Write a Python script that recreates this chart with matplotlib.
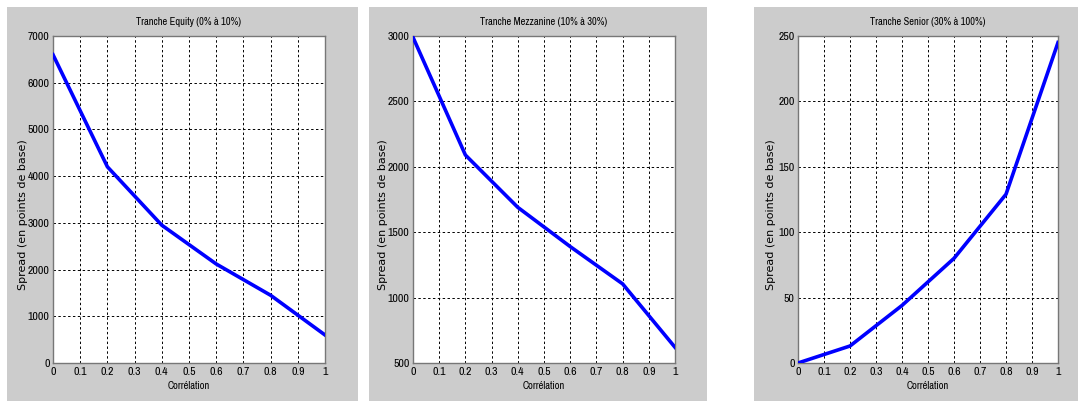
import matplotlib
matplotlib.use("Agg")
import matplotlib.pyplot as plt
from matplotlib.patches import Rectangle

# Data
correlation = [0.0, 0.2, 0.4, 0.6, 0.8, 1.0]
equity = [6600, 4200, 2950, 2120, 1450, 600]
mezzanine = [2990, 2090, 1690, 1390, 1105, 620]
senior = [0, 13, 44, 80, 129, 245]

titles = ["Tranche Equity (0% à 10%)", "Tranche Mezzanine (10% à 30%)", "Tranche Senior (30% à 100%)"]
ylims = [(0, 7000), (500, 3000), (0, 250)]
yticks = [list(range(0, 7001, 1000)), list(range(500, 3001, 500)), list(range(0, 251, 50))]
xticks = [i / 10 for i in range(11)]
xticklabels = ["0", "0.1", "0.2", "0.3", "0.4", "0.5", "0.6", "0.7", "0.8", "0.9", "1"]
series = [equity, mezzanine, senior]

W, H = 1078, 401
fig = plt.figure(figsize=(W / 100, H / 100), dpi=100)
fig.patch.set_facecolor("white")

narrow = ["Archivo Narrow", "Liberation Sans", "DejaVu Sans"]
wide = ["DejaVu Sans"]

panels = [(7, 358), (369, 707), (754, 1078)]
axes_px = [(53, 325), (413, 675), (798, 1058)]
ylabel_x_px = [23, 383, 771]
top_px, bot_px = 36, 363
ah = bot_px - top_px

for (gx0, gx1) in panels:
    fig.add_artist(Rectangle((gx0 / W, 0), (gx1 - gx0) / W, (H - 7) / H,
                             transform=fig.transFigure, facecolor="#cccccc",
                             edgecolor="none", zorder=-10))

for i in range(3):
    ax0, ax1 = axes_px[i]
    aw = ax1 - ax0
    ax = fig.add_axes([ax0 / W, (H - bot_px) / H, aw / W, ah / H])
    ax.set_zorder(1)
    ax.set_facecolor("white")
    ax.plot(correlation, series[i], color="#0000ff", linewidth=2.6, solid_joinstyle="round", zorder=3)
    ax.set_xlim(0, 1)
    ax.set_ylim(*ylims[i])
    ax.set_xticks(xticks)
    ax.set_xticklabels(xticklabels)
    ax.set_yticks(yticks[i])
    ax.grid(True, color="black", linestyle=(0, (2.5, 2.5)), linewidth=0.7)
    ax.tick_params(axis="x", length=0, pad=3.0, labelsize=8.5)
    ax.tick_params(axis="y", length=0, pad=2.5, labelsize=8.5)
    for lab in ax.get_xticklabels() + ax.get_yticklabels():
        lab.set_family(narrow)
    for s in ax.spines.values():
        s.set_color("#777777")
        s.set_linewidth(1.0)
    ax.text(0.5, 1 + (top_px - 22) / ah, titles[i], transform=ax.transAxes,
            ha="center", va="center", fontsize=7.5, family=narrow)
    ax.text(0.5, -(386 - bot_px) / ah, "Corrélation", transform=ax.transAxes,
            ha="center", va="center", fontsize=7.5, family=narrow)
    ax.set_ylabel("Spread (en points de base)", fontsize=8, family=wide,
                  va="center", ha="center")
    ax.yaxis.set_label_coords(-(ax0 - ylabel_x_px[i]) / aw, (bot_px - 214.5) / ah)

fig.savefig("out.png", dpi=100, facecolor="white")
